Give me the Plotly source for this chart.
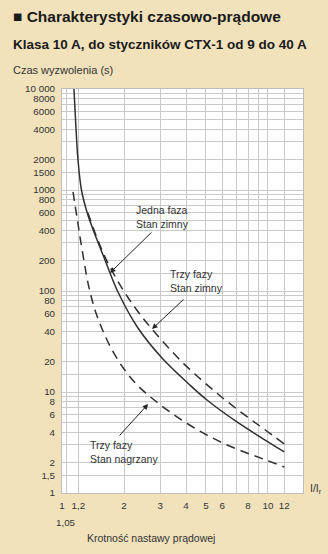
import numpy as np
import plotly.graph_objects as go

# Tripping characteristics, class 10 A (CTX-1 contactors, 9 to 40 A)
# x: multiple of current setting I/Ir, y: tripping time in seconds

jedna_faza_zimny_x = [1.143, 1.169, 1.196, 1.243, 1.322, 1.43, 1.617, 1.87, 2.338, 3.058,
                      4.182, 5.057, 7.07, 12]
jedna_faza_zimny_y = [10000, 4110, 1982, 1000, 606, 384, 203, 97.7, 43.0, 21.7,
                      11.7, 8.33, 5.05, 2.55]

trzy_fazy_zimny_x = [1.337, 1.479, 1.635, 1.829, 2.068, 2.365, 2.735, 3.198, 3.782, 4.522,
                     5.408, 6.466, 7.821, 9.563, 12]
trzy_fazy_zimny_y = [592, 335, 207, 134.5, 89.2, 60.6, 42.0, 29.2, 20.3, 14.4,
                     10.5, 7.79, 5.79, 4.30, 3.06]

trzy_fazy_nagrzany_x = [1.131, 1.157, 1.196, 1.236, 1.279, 1.322, 1.383, 1.462, 1.581, 1.749,
                        2.0, 2.338, 2.765, 3.344, 4.089, 5.057, 6.324, 7.907, 9.779, 12]
trzy_fazy_nagrzany_y = [960, 710, 461, 299, 198, 134.5, 89.2, 60.6, 40.2, 26.1,
                        16.9, 11.5, 8.53, 6.34, 4.82, 3.75, 2.99, 2.49, 2.12, 1.81]

y_tick_vals = [1, 1.5, 2, 4, 6, 8, 10, 20, 40, 60, 80, 100, 200, 400, 600, 800,
               1000, 1500, 2000, 4000, 6000, 8000, 10000]
y_tick_text = ["1", "1,5", "2", "4", "6", "8", "10", "20", "40", "60", "80", "100",
               "200", "400", "600", "800", "1000", "1500", "2000", "4000", "6000",
               "8000", "10 000"]
y_grid_vals = [m * 10 ** d for d in range(4) for m in (1, 1.5, 2, 3, 4, 5, 6, 7, 8, 9)] + [10000]

x_tick_vals = [1, 1.2, 2, 3, 4, 5, 6, 8, 10, 12]
x_tick_text = ["1", "1,2", "2", "3", "4", "5", "6", "8", "10", "12"]
x_grid_vals = [1.05, 1.2, 2, 3, 4, 5, 6, 7, 8, 9, 10, 12]

BG = "#F1E2BC"
GRID = "#c9c9c9"
CURVE = "#303030"
TXT = "#333333"
FONT = "Liberation Sans, Arial, sans-serif"

fig = go.Figure()

fig.add_trace(go.Scatter(
    x=jedna_faza_zimny_x, y=jedna_faza_zimny_y, mode="lines",
    line=dict(color=CURVE, width=1.5, shape="spline", smoothing=1.0),
    hoverinfo="skip", showlegend=False))
fig.add_trace(go.Scatter(
    x=trzy_fazy_zimny_x, y=trzy_fazy_zimny_y, mode="lines",
    line=dict(color=CURVE, width=1.5, dash="9px,6px", shape="spline", smoothing=1.0),
    hoverinfo="skip", showlegend=False))
fig.add_trace(go.Scatter(
    x=trzy_fazy_nagrzany_x, y=trzy_fazy_nagrzany_y, mode="lines",
    line=dict(color=CURVE, width=1.5, dash="9px,6px", shape="spline", smoothing=1.0),
    hoverinfo="skip", showlegend=False))

small = dict(family=FONT, size=10.5, color=TXT)
tick_font = dict(family=FONT, size=9.8, color=TXT)

fig.update_layout(
    width=328, height=554,
    margin=dict(l=62, r=25, t=89, b=61),
    paper_bgcolor=BG, plot_bgcolor="white",
    font=small,
    xaxis=dict(
        type="log", range=[0, 1.170],
        tickvals=x_tick_vals, ticktext=x_tick_text,
        ticks="outside", ticklen=0, ticklabelstandoff=3,
        showgrid=False, zeroline=False,
        showline=True, linecolor="#bdbdbd", linewidth=1, mirror=True,
        minor=dict(tickvals=x_grid_vals, showgrid=True, gridcolor=GRID, gridwidth=1, ticklen=0),
        tickfont=tick_font,
    ),
    yaxis=dict(
        type="log", range=[0, 4],
        tickvals=y_tick_vals, ticktext=y_tick_text,
        ticks="outside", ticklen=0, ticklabelstandoff=4,
        showgrid=False, zeroline=False,
        showline=True, linecolor="#bdbdbd", linewidth=1, mirror=True,
        minor=dict(tickvals=y_grid_vals, showgrid=True, gridcolor=GRID, gridwidth=1, ticklen=0),
        tickfont=tick_font,
    ),
)

def px_x(px):
    return (px - 62) / 241

def px_y(py):
    return (493 - py) / 404

annotations = [
    dict(text="<b>■ Charakterystyki czasowo-prądowe</b>", x=px_x(11), y=px_y(16),
         font=dict(family=FONT, size=15.5, color="#1a1a1a")),
    dict(text="<b>Klasa 10 A, do styczników CTX-1 od 9 do 40 A</b>", x=px_x(11), y=px_y(45),
         font=dict(family=FONT, size=13.5, color="#1a1a1a")),
    dict(text="Czas wyzwolenia (s)", x=px_x(11), y=px_y(70),
         font=dict(family=FONT, size=11, color=TXT)),
    dict(text="Jedna faza<br>Stan zimny", x=px_x(134), y=px_y(217), font=small),
    dict(text="Trzy fazy<br>Stan zimny", x=px_x(168), y=px_y(281), font=small),
    dict(text="Trzy fazy<br>Stan nagrzany", x=px_x(88), y=px_y(452), font=small),
    dict(text="I/I<sub>r</sub>", x=px_x(308), y=px_y(489), font=small),
    dict(text="Krotność nastawy prądowej", x=px_x(85), y=px_y(538), font=small),
]
for a in annotations:
    fig.add_annotation(xref="paper", yref="paper", xanchor="left", yanchor="middle",
                       showarrow=False, align="left", **a)

# 1,05 marker below the axis
fig.add_annotation(xref="x", yref="paper", x=np.log10(1.05), y=px_y(522),
                   text="1,05", showarrow=False, xanchor="center", yanchor="middle", font=tick_font)
fig.add_shape(type="line", xref="x", yref="paper",
              x0=np.log10(1.05), x1=np.log10(1.05), y0=px_y(498), y1=px_y(515),
              line=dict(color="#bcbcbc", width=1.5))

# arrows pointing at each curve
arrows = [
    (1.71, 151, 43, -42),
    (trzy_fazy_zimny_x[6], trzy_fazy_zimny_y[6], 33, -31),
    (2.62, 7.6, -30, 33),
]
for xv, yv, ax, ay in arrows:
    fig.add_annotation(xref="x", yref="y", x=np.log10(xv), y=np.log10(yv), text="",
                       showarrow=True, arrowhead=2, arrowsize=1.1, arrowwidth=1,
                       arrowcolor="#222222", ax=ax, ay=ay, standoff=0)

fig.write_html("out.html")
